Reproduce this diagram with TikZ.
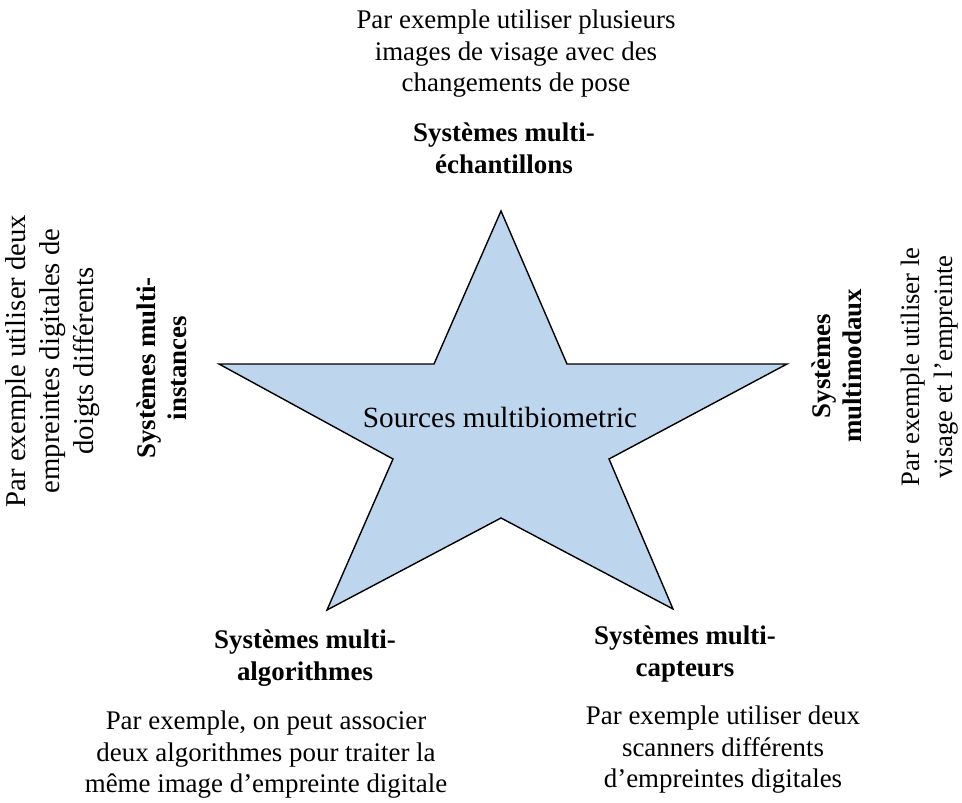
\documentclass[tikz,border=0pt]{standalone}
\usepackage{fontspec}
\setmainfont{Liberation Serif}
\definecolor{starfill}{HTML}{BDD6EE}
\begin{document}
\begin{tikzpicture}[x=1pt,y=-1pt,
  body/.style={align=center,inner sep=0pt,font=\fontsize{26.9}{31.5}\selectfont},
  bigbody/.style={align=center,inner sep=0pt,font=\fontsize{28.7}{34}\selectfont},
  bold/.style={align=center,inner sep=0pt,font=\fontsize{26.9}{31.5}\selectfont\bfseries},
  startxt/.style={inner sep=0pt,font=\fontsize{29.3}{34}\selectfont}]
\useasboundingbox (0,0) rectangle (962,803);
% star
\coordinate (T) at (501,211);
\coordinate (IR1) at (567,364);
\coordinate (R) at (787,364);
\coordinate (IR2) at (609,459);
\coordinate (BR) at (673,609);
\coordinate (IB) at (501,518);
\coordinate (BL) at (327,610);
\coordinate (IL2) at (393,459);
\coordinate (L) at (219,364);
\coordinate (IL1) at (434,364);
\draw[fill=starfill,line width=1.4pt,line join=miter]
  (T) -- (IR1) -- (R) -- (IR2) -- (BR) -- (IB) -- (BL) -- (IL2) -- (L) -- (IL1) -- cycle;
\node[startxt] (src) at (500,417) {Sources multibiometric};
% top
\node[body,anchor=north] (extop) at (516,10) {Par exemple utiliser plusieurs\\images de visage avec des\\changements de pose};
\node[bold,anchor=north] (top) at (504,123) {Systèmes multi-\\échantillons};
% left
\node[bigbody,rotate=90] (exleft) at (53,361) {Par exemple utiliser deux\\empreintes digitales de\\doigts différents};
\node[bold,rotate=90] (left) at (162,368) {Systèmes multi-\\instances};
% right
\node[bold,rotate=90] (right) at (837,366) {Systèmes\\multimodaux};
\node[body,rotate=90,font=\fontsize{26.6}{33}\selectfont] (exright) at (930,367) {Par exemple utiliser le\\visage et l’empreinte};
% bottom left
\node[bold,anchor=north] (bl) at (305,630) {Systèmes multi-\\algorithmes};
\node[body,anchor=north] (exbl) at (266,711) {Par exemple, on peut associer\\deux algorithmes pour traiter la\\même image d’empreinte digitale};
% bottom right
\node[bold,anchor=north] (br) at (685,626) {Systèmes multi-\\capteurs};
\node[body,anchor=north] (exbr) at (723,706) {Par exemple utiliser deux\\scanners différents\\d'empreintes digitales};
\end{tikzpicture}
\end{document}
